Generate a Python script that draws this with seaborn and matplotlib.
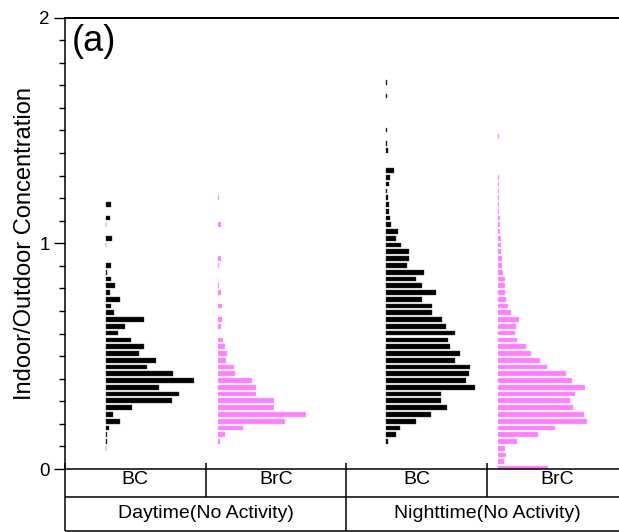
import numpy as np
import pandas as pd
import matplotlib
matplotlib.use("Agg")
import matplotlib.pyplot as plt
import seaborn as sns
from matplotlib.ticker import MultipleLocator

# histogram bar lengths (relative frequency), bins 0.03 wide
bin_width = 0.03
bc_day_start = 0.092
bc_day = [0.5, 1.3, 1.3, 3, 14.3, 6.7, 26.3, 65.7, 73, 53.3, 88.3, 67.3, 41.3,
          49.7, 33, 37.7, 24.7, 12.3, 19, 37.7, 7.7, 4.7, 14.3, 4, 8.7, 4.7,
          1.3, 4.7, 0, 0, 0.5, 6, 0, 0.5, 4, 0, 4.7]
brc_day_start = 0.122
brc_day = [2.7, 7.7, 25.7, 67, 88.3, 56.7, 56.7, 38, 38.7, 34.3, 17.7, 16.7,
           8.7, 9.3, 7.7, 5.7, 0, 3.7, 4.3, 0, 4.3, 0, 3, 1, 0.7, 0, 1.7, 3,
           0, 0, 0, 0, 3, 0, 0, 0, 1.3]
bc_night_start = 0.122
bc_night = [1.3, 9.7, 14, 29.3, 44.3, 61, 55, 54.3, 88.3, 80, 82.7, 83.7, 68.3,
            74, 64, 62, 68.7, 60, 56, 46, 45.7, 36, 50, 35.7, 30, 38, 20.3, 23,
            22.3, 15, 9.3, 12, 4.7, 4, 2.3, 3, 2, 0.5, 2.3, 4, 7.3, 0, 0, 2,
            0.5, 0, 0.5, 0, 0, 0, 0, 0.3, 0, 0.5]
brc_night_start = 0.002
brc_night = [49.7, 5.3, 7.3, 6.3, 18.7, 39.3, 57, 88.3, 86, 75, 71.3, 76.3, 87,
             73.7, 67.3, 49, 41.7, 33, 28, 18.7, 17, 18, 20.3, 12.7, 10, 7.3, 7,
             6.3, 6.3, 4.7, 3.7, 3.7, 2.3, 2.7, 2.3, 2, 2, 1.3, 0.5, 0.4, 0.4,
             0.4, 1, 0.4, 0, 0, 0, 0, 0, 1]

species = ["BC", "BrC", "BC", "BrC"]
periods = ["Daytime(No Activity)", "Nighttime(No Activity)"]
bases = [0.29, 1.085, 2.285, 3.08]
series = [(bc_day_start, bc_day), (brc_day_start, brc_day),
          (bc_night_start, bc_night), (brc_night_start, brc_night)]
colors = {"BC": "black", "BrC": "#FF80FF"}
edges = {"BC": "#444444", "BrC": "#FFB0FF"}

rows = []
for g, (start, vals) in enumerate(series):
    centers = start + bin_width * np.arange(len(vals))
    for c, v in zip(centers, vals):
        rows.append({"group": g, "species": species[g], "conc": c, "freq": v})
df = pd.DataFrame(rows)
df = df[df["freq"] > 0]

sns.set_theme(style="ticks", rc={"text.color": "black", "axes.labelcolor": "black",
                                 "xtick.color": "black", "ytick.color": "black"})
plt.rcParams["font.family"] = ["Liberation Sans", "DejaVu Sans"]

fig = plt.figure(figsize=(6.19, 5.32), dpi=100)
W, H = 619, 532
ax = fig.add_axes([65 / W, 63 / H, 562.8 / W, 451.5 / H])

scale = 1 / 140.7  # freq units -> x data units
for g, sub in df.groupby("group"):
    sp = species[g]
    ax.barh(sub["conc"], sub["freq"] * scale, height=0.021, left=bases[g],
            color=colors[sp], edgecolor=edges[sp], linewidth=0.3)

ax.set_xlim(0, 4)
ax.set_ylim(0, 2)
ax.set_xticks([])
ax.set_yticks([0, 1, 2])
ax.yaxis.set_minor_locator(MultipleLocator(0.1))
ax.tick_params(axis="y", which="major", length=8, width=1, color="black",
               labelsize=13.5, pad=3, direction="out")
ax.tick_params(axis="y", which="minor", length=4, width=1, color="black",
               direction="out", left=True)
for s in ["left", "top", "bottom"]:
    ax.spines[s].set_color("black")
    ax.spines[s].set_linewidth(1.1)
ax.spines["top"].set_linewidth(1.4)
ax.spines["right"].set_visible(False)
ax.set_ylabel("Indoor/Outdoor Concentration", fontsize=17, labelpad=2)
ax.text(0.012, 0.985, "(a)", transform=ax.transAxes, fontsize=26,
        ha="left", va="top")

# two-level category table under the plot
tab = fig.add_axes([65 / W, 1 / H, 562.8 / W, 68 / H])
tab.set_xlim(0, 4)
tab.set_ylim(0, 2)
tab.axis("off")
lw = 1.1
tab.hlines([1, 0], 0, 4, color="black", lw=lw, clip_on=False)
tab.vlines([0, 2], 0, 2, color="black", lw=lw, clip_on=False)
tab.vlines([1, 3], 1, 2, color="black", lw=lw, clip_on=False)
for i, name in enumerate(species):
    tab.text(i + 0.5, 1.5, name, ha="center", va="center", fontsize=14)
for i, name in enumerate(periods):
    tab.text(2 * i + 1, 0.5, name, ha="center", va="center", fontsize=14)

fig.savefig("out.png", dpi=100)
